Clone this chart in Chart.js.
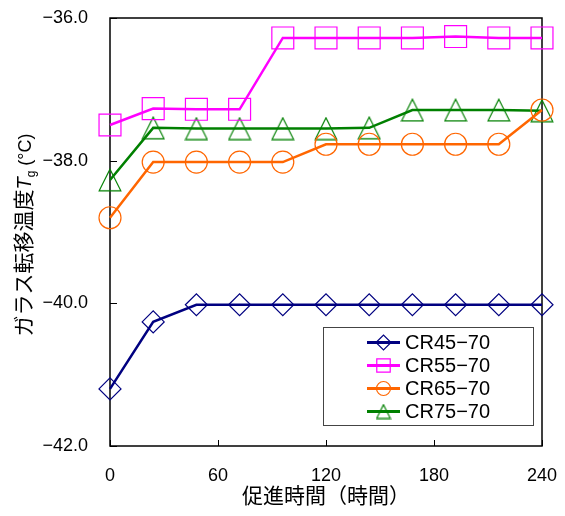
<!DOCTYPE html>
<html>
<head>
<meta charset="utf-8">
<script src="https://cdn.jsdelivr.net/npm/chart.js@4.4.1/dist/chart.umd.min.js"></script>
<style>
  html, body { margin: 0; padding: 0; background: #fff; }
</style>
</head>
<body>
<canvas id="chart" width="565" height="516"></canvas>
<script>
const hours = [0, 24, 48, 72, 96, 120, 144, 168, 192, 216, 240];
const cr45 = [-41.20, -40.26, -40.02, -40.02, -40.02, -40.02, -40.02, -40.02, -40.02, -40.02, -40.02];
const cr55 = [-37.50, -37.27, -37.28, -37.28, -36.28, -36.28, -36.28, -36.28, -36.26, -36.28, -36.28];
const cr65 = [-38.80, -38.02, -38.02, -38.02, -38.02, -37.77, -37.77, -37.77, -37.77, -37.77, -37.29];
const cr75 = [-38.27, -37.54, -37.55, -37.55, -37.55, -37.55, -37.54, -37.29, -37.29, -37.29, -37.30];
const seriesNames = ["CR45−70", "CR55−70", "CR65−70", "CR75−70"];
const xTicks = [0, 60, 120, 180, 240];
const yTicks = [-42, -40, -38, -36];

const colors = ["#000080", "#ff00ff", "#ff6600", "#008000"];
const FONT = '"Liberation Sans", "Noto Sans CJK JP", sans-serif';

// hollow triangle centred in its own box
function triangleMark(size, color, lw) {
  const c = document.createElement("canvas");
  c.width = c.height = size;
  const g = c.getContext("2d");
  g.strokeStyle = color;
  g.lineWidth = lw;
  g.beginPath();
  g.moveTo(size / 2, lw);
  g.lineTo(size - lw, size - lw);
  g.lineTo(lw, size - lw);
  g.closePath();
  g.stroke();
  return c;
}

const marks = [
  { style: "rectRot", radius: 11 },
  { style: "rect", radius: 15.5 },
  { style: "circle", radius: 11 },
  { style: triangleMark(24, colors[3], 1.2), radius: 11 }
];
const legendMarks = [
  { style: "rectRot", radius: 7.5 },
  { style: "rect", radius: 9.5 },
  { style: "circle", radius: 7 },
  { style: triangleMark(16, colors[3], 1.2), radius: 7 }
];

function makeSet(i, values) {
  return {
    label: seriesNames[i],
    data: hours.map((h, k) => ({ x: h, y: values[k] })),
    borderColor: colors[i],
    borderWidth: 2.5,
    pointStyle: marks[i].style,
    pointRadius: marks[i].radius,
    pointHoverRadius: marks[i].radius,
    pointBorderColor: colors[i],
    pointBackgroundColor: "rgba(0,0,0,0)",
    pointBorderWidth: 1.2,
    tension: 0,
    clip: false
  };
}

const frame = {
  id: "frame",
  beforeDatasetsDraw(chart) {
    const { ctx, chartArea: a, scales } = chart;
    ctx.save();
    ctx.strokeStyle = "#000";
    ctx.lineWidth = 1.5;
    ctx.strokeRect(a.left, a.top, a.right - a.left, a.bottom - a.top);
    ctx.lineWidth = 1;
    ctx.beginPath();
    for (const v of yTicks) {
      const y = Math.round(scales.y.getPixelForValue(v)) + 0.5;
      ctx.moveTo(a.left, y);
      ctx.lineTo(a.left + 7, y);
    }
    for (const v of xTicks) {
      const x = Math.round(scales.x.getPixelForValue(v)) + 0.5;
      ctx.moveTo(x, a.bottom);
      ctx.lineTo(x, a.bottom - 6);
    }
    ctx.stroke();
    ctx.restore();
  }
};

function drawLegendMark(ctx, m, x, y) {
  if (typeof m.style === "object") {
    ctx.drawImage(m.style, x - m.style.width / 2, y - m.style.height / 2);
    return;
  }
  const r = m.radius;
  ctx.beginPath();
  if (m.style === "rectRot") {
    ctx.moveTo(x - r, y); ctx.lineTo(x, y - r); ctx.lineTo(x + r, y); ctx.lineTo(x, y + r);
    ctx.closePath();
  } else if (m.style === "rect") {
    const s = r * Math.SQRT1_2;
    ctx.rect(x - s, y - s, 2 * s, 2 * s);
  } else {
    ctx.arc(x, y, r, 0, Math.PI * 2);
  }
  ctx.stroke();
}

const extras = {
  id: "extras",
  afterDraw(chart) {
    const { ctx } = chart;
    ctx.save();

    // y axis title: ガラス転移温度 Tg (°C), rotated
    const parts = [
      { t: "ガラス転移温度", f: '21px "Noto Sans CJK JP"', dy: 0 },
      { t: "T", f: "italic 20px " + FONT, dy: 0 },
      { t: "g", f: "12px " + FONT, dy: 4 },
      { t: " (°C)", f: "18px " + FONT, dy: 0 }
    ];
    let total = 0;
    for (const p of parts) { ctx.font = p.f; p.w = ctx.measureText(p.t).width; total += p.w; }
    ctx.translate(23, 235);
    ctx.rotate(-Math.PI / 2);
    ctx.fillStyle = "#000";
    ctx.textBaseline = "alphabetic";
    let px = -total / 2;
    for (const p of parts) {
      ctx.font = p.f;
      ctx.fillText(p.t, px, 8 + p.dy);
      px += p.w;
    }
    ctx.restore();

    // legend box
    ctx.save();
    ctx.strokeStyle = "#444";
    ctx.lineWidth = 1;
    ctx.fillStyle = "#fff";
    ctx.fillRect(323.5, 327.5, 210, 98);
    ctx.strokeRect(323.5, 327.5, 210, 98);
    ctx.font = "20px " + FONT;
    ctx.textBaseline = "middle";
    chart.data.datasets.forEach((ds, i) => {
      const y = 342.5 + i * 23;
      ctx.strokeStyle = ds.borderColor;
      ctx.lineWidth = 3;
      ctx.beginPath();
      ctx.moveTo(367, y);
      ctx.lineTo(400, y);
      ctx.stroke();
      ctx.lineWidth = 1.2;
      drawLegendMark(ctx, legendMarks[i], 383.5, y);
      ctx.fillStyle = "#000";
      ctx.fillText(ds.label, 405, y + 1);
    });
    ctx.restore();
  }
};

new Chart(document.getElementById("chart"), {
  type: "line",
  data: {
    datasets: [makeSet(0, cr45), makeSet(1, cr55), makeSet(2, cr65), makeSet(3, cr75)]
  },
  options: {
    responsive: false,
    animation: false,
    devicePixelRatio: 1,
    layout: { padding: { top: 18, right: 23, left: 0, bottom: 0 } },
    plugins: { legend: { display: false }, tooltip: { enabled: false } },
    scales: {
      x: {
        type: "linear",
        min: 0,
        max: 240,
        grid: { display: false, drawTicks: false },
        border: { display: false },
        afterBuildTicks: s => { s.ticks = xTicks.map(v => ({ value: v })); },
        afterFit: s => { s.height = 70; s.paddingLeft = 0; s.paddingRight = 0; },
        ticks: { padding: 19, color: "#000", font: { family: FONT, size: 18 } },
        title: {
          display: true,
          text: "促進時間（時間）",
          color: "#000",
          font: { family: FONT, size: 21 },
          padding: { top: 0, bottom: 6 }
        }
      },
      y: {
        type: "linear",
        min: -42,
        max: -36,
        grid: { display: false, drawTicks: false },
        border: { display: false },
        afterBuildTicks: s => { s.ticks = yTicks.map(v => ({ value: v })); },
        afterFit: s => { s.width = 110; s.paddingTop = 0; s.paddingBottom = 0; },
        ticks: {
          padding: 22,
          color: "#000",
          font: { family: FONT, size: 18 },
          callback: v => v.toFixed(1).replace("-", "−")
        }
      }
    }
  },
  plugins: [frame, extras]
});
</script>
</body>
</html>
